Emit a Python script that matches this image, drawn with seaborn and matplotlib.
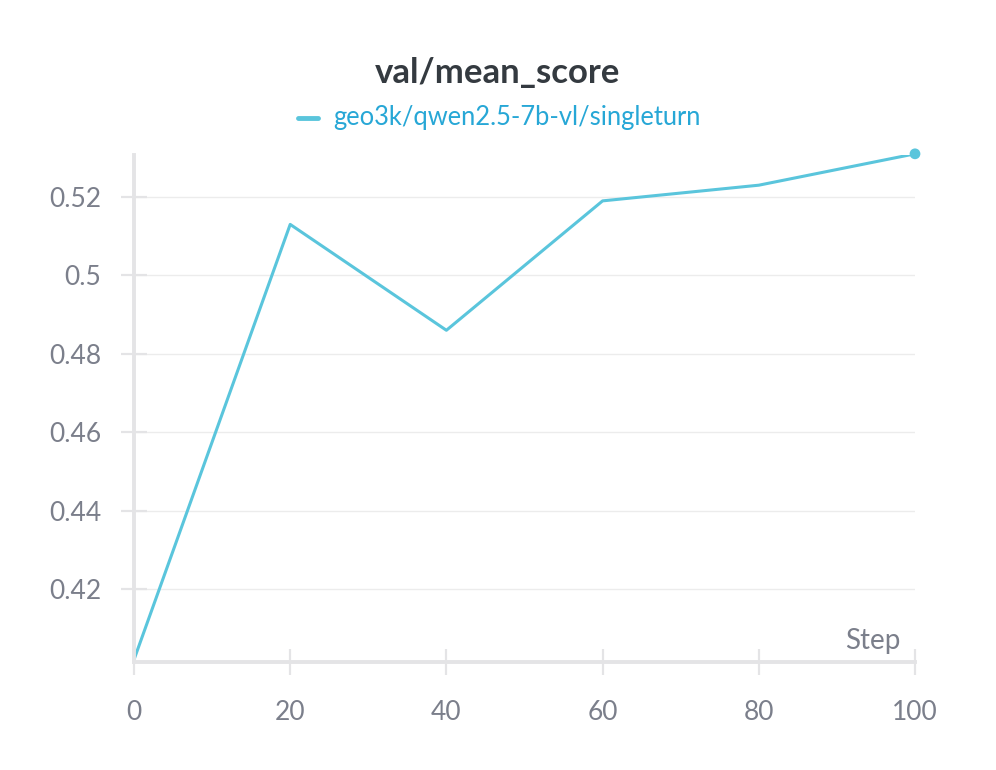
import matplotlib
matplotlib.use("Agg")
import matplotlib.pyplot as plt
import seaborn as sns
import pandas as pd
from matplotlib.ticker import FuncFormatter, FixedLocator

steps = [0, 20, 40, 60, 80, 100]
scores = [0.402, 0.513, 0.486, 0.519, 0.523, 0.531]
series_name = "geo3k/qwen2.5-7b-vl/singleturn"
x_ticks = [0, 20, 40, 60, 80, 100]
y_ticks = [0.42, 0.44, 0.46, 0.48, 0.50, 0.52]

sns.set_theme(style="white")
plt.rcParams['font.family'] = ['Lato', 'DejaVu Sans']

line_color = "#5ac5dc"
tick_color = "#7b7f8b"
spine_color = "#e4e4e6"

df = pd.DataFrame({"Step": steps, "score": scores, "run": series_name})

fig = plt.figure(figsize=(9.96, 7.7), dpi=100)
ax = fig.add_axes([134/996, 1-662/770, (915-134)/996, (662-155)/770])

sns.lineplot(data=df, x="Step", y="score", ax=ax, color=line_color, linewidth=2.2,
             legend=False)
ax.scatter(df["Step"].iloc[-1:], df["score"].iloc[-1:], s=60, color=line_color,
           zorder=5, clip_on=False, edgecolors="none")

ax.set_xlim(0, 100)
ax.set_ylim(0.4014, 0.5307)
ax.xaxis.set_major_locator(FixedLocator(x_ticks))
ax.yaxis.set_major_locator(FixedLocator(y_ticks))
ax.yaxis.set_major_formatter(FuncFormatter(lambda v, p: f"{v:g}"))

ax.grid(axis="y", color="#ececec", linewidth=1)
ax.grid(axis="x", visible=False)
ax.set_axisbelow(True)

for s in ["top", "right"]:
    ax.spines[s].set_visible(False)
for s in ["left", "bottom"]:
    ax.spines[s].set_color(spine_color)
    ax.spines[s].set_linewidth(2.8)

ax.tick_params(axis="both", direction="inout", length=19, width=1.6,
               color=spine_color, labelcolor=tick_color, labelsize=19,
               bottom=True, left=True)
ax.tick_params(axis="x", pad=17.5)
ax.tick_params(axis="y", pad=14)

ax.set_xlabel("")
ax.set_ylabel("")
ax.text((900-134)/781, (662-654)/507, "Step", transform=ax.transAxes, ha="right",
        va="bottom", fontsize=20, color=tick_color)

fig.text(0.5, 1-73/770, "val/mean_score", ha="center", va="center",
         fontsize=25, fontweight="bold", color="#343a40")
fig.lines.append(plt.Line2D([298/996, 318/996], [1-118/770, 1-118/770],
                            transform=fig.transFigure, color=line_color, linewidth=3.5))
fig.text(333/996, 1-118/770, series_name, ha="left", va="center",
         fontsize=18.4, color="#27a7d6")

fig.savefig("out.png", dpi=100, facecolor="white")
